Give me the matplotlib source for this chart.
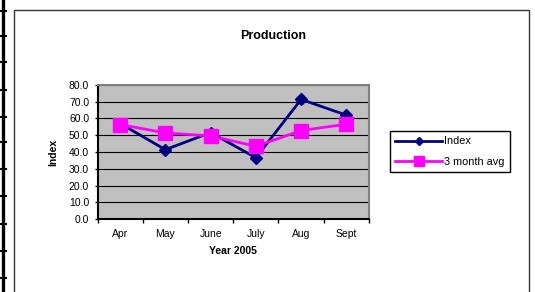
import matplotlib
matplotlib.use("Agg")
import matplotlib.pyplot as plt
from matplotlib.lines import Line2D
from matplotlib.patches import Rectangle

# --- data ---
months = ["Apr", "May", "June", "July", "Aug", "Sept"]
index_vals = [57.0, 41.4, 51.6, 36.6, 71.4, 62.0]
avg_vals = [56.4, 51.4, 49.6, 43.4, 52.8, 56.6]
y_ticks = [0, 10, 20, 30, 40, 50, 60, 70, 80]

W, H = 535, 292
plt.rcParams['font.family'] = ['Liberation Sans', 'DejaVu Sans']

fig = plt.figure(figsize=(W / 100, H / 100), dpi=100)

# page decoration: outer frame and the binder strip on the left
fig.add_artist(Rectangle((14 / W, -0.1), (529 - 14) / W, 1.1 - 10 / H,
                         transform=fig.transFigure, fill=False,
                         edgecolor='#333333', linewidth=1.0))
fig.add_artist(Line2D([2.5 / W, 2.5 / W], [0, 1], transform=fig.transFigure,
                      color='black', linewidth=2.4))
for ty in [10.7, 35.7, 62, 90, 117, 142, 169, 196, 224, 251, 278]:
    fig.add_artist(Line2D([0, 5.5 / W], [1 - ty / H, 1 - ty / H],
                          transform=fig.transFigure, color='black', linewidth=1.5))

# plot area
left, right, top, bottom = 97.5, 369, 85, 219
ax = fig.add_axes([left / W, 1 - bottom / H, (right - left) / W, (bottom - top) / H])
ax.set_facecolor('#C0C0C0')

x = list(range(len(months)))
ax.plot(x, index_vals, color='#000080', linewidth=2, marker='D', markersize=6.5,
        label='Index', zorder=3)
ax.plot(x, avg_vals, color='#FF00FF', linewidth=2, marker='s', markersize=10.5,
        label='3 month avg', zorder=4)

ax.set_xlim(-0.5, len(months) - 0.5)
ax.set_ylim(0, 80)
ax.set_yticks(y_ticks)
ax.set_yticklabels([f"{v:.1f}" for v in y_ticks])
ax.set_xticks(x)
ax.set_xticklabels(months)
ax.set_xticks([i + 0.5 for i in range(-1, len(months))], minor=True)
ax.tick_params(axis='x', which='major', length=0, pad=7.5, labelsize=7.5)
ax.tick_params(axis='x', which='minor', length=3, width=1, direction='out')
ax.tick_params(axis='y', length=2, width=1, pad=4, labelsize=7.5)
ax.yaxis.grid(True, color='black', linewidth=0.8)
ax.set_axisbelow(True)

for side in ['left', 'bottom']:
    ax.spines[side].set_color('black')
    ax.spines[side].set_linewidth(1.5)
for side in ['top', 'right']:
    ax.spines[side].set_color('#808080')
    ax.spines[side].set_linewidth(1.5)

ax.set_ylabel('Index', fontsize=7.5, fontweight='bold', labelpad=8)
ax.set_xlabel('Year 2005', fontsize=7.5, fontweight='bold', labelpad=5)

fig.text(273 / W, 1 - 36 / H, 'Production', fontsize=9, fontweight='bold',
         ha='center', va='center')

leg = ax.legend(loc='upper left', bbox_to_anchor=(390 / W, 1 - 131 / H),
                bbox_transform=fig.transFigure, borderaxespad=0,
                fontsize=7.8, handlelength=4.3, handletextpad=0.2,
                labelspacing=0.95, fancybox=False, framealpha=1,
                borderpad=0.5, markerscale=0.7)
leg.get_frame().set_edgecolor('black')
leg.get_frame().set_linewidth(1.0)

fig.savefig('out.png', dpi=100)
